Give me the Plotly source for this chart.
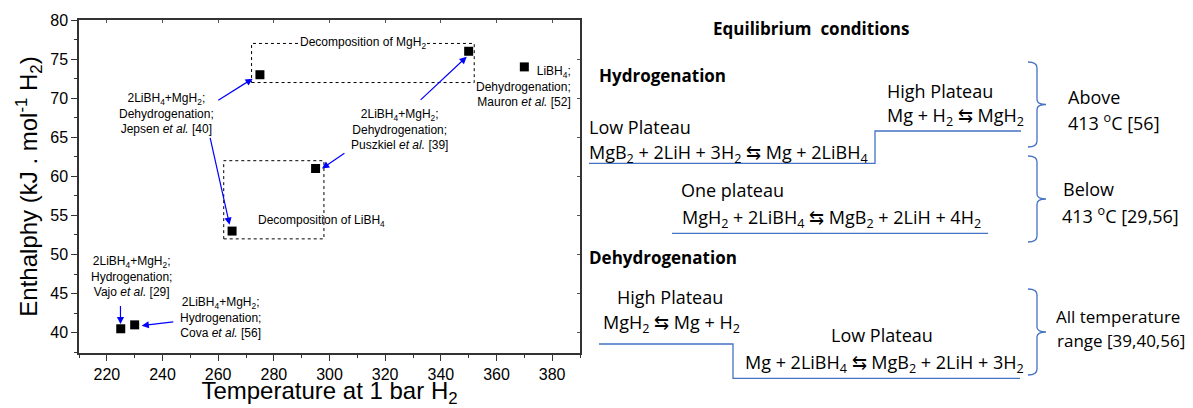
import plotly.graph_objects as go

# the page body adds an 8 px margin, so the figure is drawn 8 px in from the corner
OFF = 8
W, H = 1193 - OFF, 408 - OFF

# measured enthalpies (kJ/mol H2) vs temperature at 1 bar H2
temps = [225, 230, 265, 295, 275, 350, 370]
enthalpy = [40.5, 41.0, 53.0, 61.0, 73.0, 76.0, 74.0]

x_ticks = [220, 240, 260, 280, 300, 320, 340, 360, 380]
y_ticks = [40, 45, 50, 55, 60, 65, 70, 75, 80]

# dotted boxes: (x0, x1, y0, y1)
box_mgh2 = (272, 352, 72, 77)
box_libh4 = (262, 298, 52, 62)

ARIAL = "Liberation Sans, Arial, sans-serif"
CALIBRI = "Open Sans, Lato, sans-serif"
BLUE_LINE = "#4472C4"


def px(x):
    return (x - OFF) / W


def py(y):
    return 1 - (y - OFF) / H


fig = go.Figure()
fig.add_trace(go.Scatter(
    x=temps, y=enthalpy, mode="markers",
    marker=dict(symbol="square", size=9, color="black"),
    showlegend=False, hoverinfo="x+y",
))

# dummy trace so the mirrored axes get drawn
fig.add_trace(go.Scatter(x=[None], y=[None], xaxis="x2", yaxis="y2", showlegend=False))

shapes = []
for x0, x1, y0, y1 in (box_mgh2, box_libh4):
    shapes.append(dict(type="rect", xref="x", yref="y", x0=x0, x1=x1, y0=y0, y1=y1,
                       line=dict(color="black", width=1, dash="dot")))

annotations = []

# text labels in the plot
sub = lambda s: f"<sub>{s}</sub>"
mix = f"2LiBH{sub(4)}+MgH{sub(2)};"
labels = [
    (f"{mix}<br>Dehydrogenation;<br>Jepsen <i>et al.</i> [40]", 241.5, 68.0, "center"),
    (f"{mix}<br>Dehydrogenation;<br>Puszkiel <i>et al.</i> [39]", 325, 66.0, "center"),
    (f"{mix}<br>Hydrogenation;<br>Vajo <i>et al.</i> [29]", 229, 47.2, "center"),
    (f"{mix}<br>Hydrogenation;<br>Cova <i>et al.</i> [56]", 261, 41.9, "center"),
]
for text, x, y, al in labels:
    annotations.append(dict(text=text, x=x, y=y, xref="x", yref="y", showarrow=False,
                            align=al, font=dict(family=ARIAL, size=12, color="black")))
annotations.append(dict(text=f"LiBH{sub(4)};<br>Dehydrogenation;<br>Mauron <i>et al.</i> [52]",
                        x=387.5, y=71.5, xref="x", yref="y", xanchor="right", showarrow=False,
                        align="right", font=dict(family=ARIAL, size=12, color="black")))
annotations.append(dict(text=f"Decomposition of MgH{sub(2)}", x=312, y=77, xref="x", yref="y",
                        showarrow=False, bgcolor="white", borderpad=0,
                        font=dict(family=ARIAL, size=12, color="black")))
annotations.append(dict(text=f"Decomposition of LiBH{sub(4)}", x=297, y=54.3, xref="x", yref="y",
                        showarrow=False, font=dict(family=ARIAL, size=12, color="black")))

# arrows: (head x, head y, tail x, tail y)
arrows = [
    (272.4, 72.5, 259.5, 69.6),
    (264.1, 53.8, 257.0, 65.1),
    (349.3, 75.3, 332.2, 69.6),
    (297.3, 61.0, 305.9, 63.1),
    (224.9, 41.1, 224.9, 43.6),
    (232.5, 40.9, 244.4, 41.4),
]
for hx, hy, tx, ty in arrows:
    annotations.append(dict(text="", x=hx, y=hy, ax=tx, ay=ty, xref="x", yref="y",
                            axref="x", ayref="y", showarrow=True, arrowhead=2,
                            arrowsize=1.2, arrowwidth=1.2, arrowcolor="blue", standoff=0))

# right-hand scheme (positions in reference pixels)
R = 18
B = 17
S = 17
scheme = [
    ("<b>Equilibrium&nbsp; conditions</b>", 811, 28, "center", B),
    ("<b>Hydrogenation</b>", 597, 75, "left", B),
    ("Low Plateau", 587, 127, "left", R),
    (f"MgB{sub(2)} + 2LiH + 3H{sub(2)} ⇆ Mg + 2LiBH{sub(4)}", 587, 153, "left", R),
    ("High Plateau", 885, 91, "left", R),
    (f"Mg + H{sub(2)} ⇆ MgH{sub(2)}", 885, 116, "left", R),
    ("Above", 1066, 97, "left", R),
    ("413 <sup>o</sup>C [56]", 1066, 122, "left", R),
    ("One plateau", 732, 190, "center", R),
    (f"MgH{sub(2)} + 2LiBH{sub(4)} ⇆ MgB{sub(2)} + 2LiH + 4H{sub(2)}", 680, 218, "left", R),
    ("Below", 1061, 189, "left", R),
    ("413 <sup>o</sup>C [29,56]", 1060, 215, "left", R),
    ("<b>Dehydrogenation</b>", 587, 257, "left", B),
    ("High Plateau", 670, 297, "center", R),
    (f"MgH{sub(2)} ⇆ Mg + H{sub(2)}", 671, 323, "center", R),
    ("Low Plateau", 882, 335, "center", R),
    (f"Mg + 2LiBH{sub(4)} ⇆ MgB{sub(2)} + 2LiH + 3H{sub(2)}", 743, 363, "left", R),
    ("All temperature", 1054, 316, "left", S),
    ("range [39,40,56]", 1055, 340, "left", S),
]
for text, x, y, anc, size in scheme:
    annotations.append(dict(text=text, x=px(x), y=py(y), xref="paper", yref="paper",
                            xanchor=anc, yanchor="middle", showarrow=False,
                            font=dict(family=CALIBRI, size=size, color="black")))


def poly(points):
    return "M " + " L ".join(f"{px(x)},{py(y)}" for x, y in points)


for pts in (
    [(589, 163.3), (875, 163.3), (875, 131), (1021, 131)],
    [(672, 233.3), (988, 233.3)],
    [(599, 344), (733, 344), (733, 378.3), (1020, 378.3)],
):
    shapes.append(dict(type="path", xref="paper", yref="paper", path=poly(pts),
                       line=dict(color=BLUE_LINE, width=1.3)))


def brace(top, bottom, xl=1028, xm=1037, xt=1046):
    mid = (top + bottom) / 2
    p = lambda x, y: f"{px(x)},{py(y)}"
    return (f"M {p(xl, top)} Q {p(xm, top)} {p(xm, top + 6)} L {p(xm, mid - 5)} "
            f"Q {p(xm, mid)} {p(xt, mid)} Q {p(xm, mid)} {p(xm, mid + 5)} "
            f"L {p(xm, bottom - 6)} Q {p(xm, bottom)} {p(xl, bottom)}")


for top, bottom in ((62, 147), (156, 242), (289, 375)):
    shapes.append(dict(type="path", xref="paper", yref="paper", path=brace(top, bottom),
                       line=dict(color=BLUE_LINE, width=1.3)))

axis_common = dict(showline=True, linecolor="#333", linewidth=1.5, showgrid=False,
                   zeroline=False, automargin=False,
                   tickfont=dict(family=ARIAL, size=16, color="black"))
mirror_common = dict(showline=True, linecolor="#333", linewidth=1.5, ticks="inside",
                     ticklen=3, tickcolor="#555", showticklabels=False, showgrid=False,
                     zeroline=False, automargin=False)

fig.update_layout(
    width=W, height=H,
    margin=dict(l=0, r=0, t=0, b=0, autoexpand=False),
    paper_bgcolor="white", plot_bgcolor="white",
    xaxis=dict(domain=[px(79), px(580)], range=[210, 390], tickvals=x_ticks,
               ticks="outside", ticklen=6, tickwidth=1.2, tickcolor="#333",
               minor=dict(dtick=10, tick0=210, ticks="outside", ticklen=3, tickcolor="#333"),
               title=dict(text="Temperature at 1 bar H<sub>2</sub>", standoff=5,
                          font=dict(family=ARIAL, size=24, color="black")),
               **axis_common),
    yaxis=dict(domain=[py(353), py(20)], range=[37.4, 80], tickvals=y_ticks,
               ticks="outside", ticklen=6, tickwidth=1.2, tickcolor="#333",
               minor=dict(dtick=2.5, tick0=40, ticks="outside", ticklen=3, tickcolor="#333"),
               title=dict(text="Enthalphy (kJ . mol<sup>-1</sup> H<sub>2</sub>)", standoff=6,
                          font=dict(family=ARIAL, size=24, color="black")),
               **axis_common),
    xaxis2=dict(domain=[px(79), px(580)], overlaying="x", matches="x", side="top",
                anchor="y2", tickvals=x_ticks, **mirror_common),
    yaxis2=dict(domain=[py(353), py(20)], overlaying="y", matches="y", side="right",
                anchor="x2", tickvals=y_ticks, **mirror_common),
    shapes=shapes,
    annotations=annotations,
)

fig.write_html("out.html")
